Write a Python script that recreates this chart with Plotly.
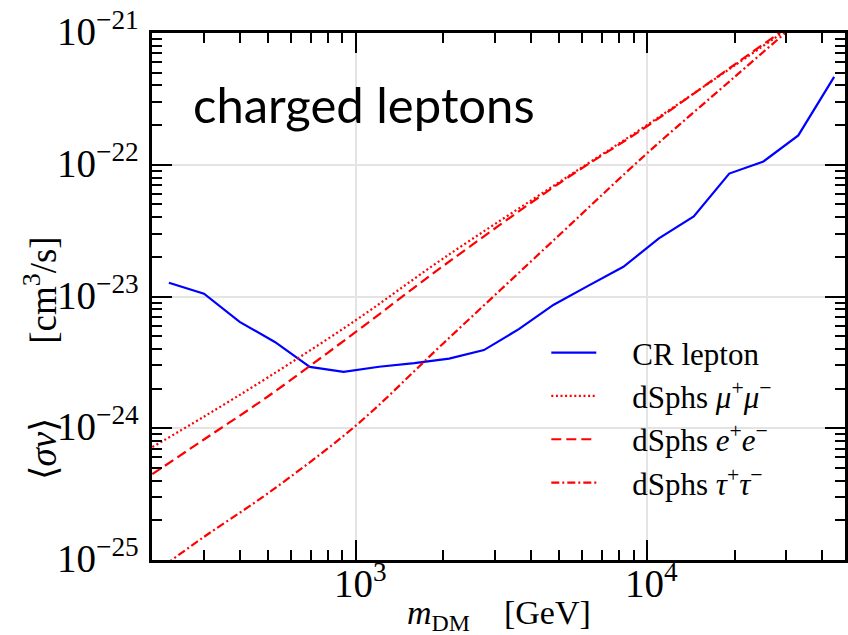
import numpy as np
import plotly.graph_objects as go

# ---------------- data ----------------
cr_mass = [228, 301, 399, 527, 695, 908, 1202, 1588, 2091, 2754, 3630, 4784,
           6300, 8300, 10990, 14480, 19170, 25130, 33100, 43950]
cr_sigv = [1.27e-23, 1.05e-23, 6.42e-24, 4.52e-24, 2.92e-24, 2.68e-24, 2.93e-24,
           3.12e-24, 3.38e-24, 3.92e-24, 5.65e-24, 8.67e-24, 1.21e-23, 1.68e-23,
           2.76e-23, 4.06e-23, 8.57e-23, 1.06e-22, 1.67e-22, 4.64e-22]

dsph_mass = [200, 300, 500, 1000, 2000, 5000, 10000, 20000, 30000]
dsph_mumu = [7.19e-25, 1.22e-24, 2.44e-24, 6.61e-24, 1.95e-23, 7.39e-23, 2.0e-22, 5.67e-22, 1.045e-21]
dsph_ee = [4.48e-25, 8.18e-25, 1.75e-24, 5.39e-24, 1.71e-23, 7.24e-23, 1.96e-22, 5.76e-22, 1.085e-21]
dsph_tautau = [7.8e-26, 1.49e-25, 3.22e-25, 1.047e-24, 4.42e-24, 2.93e-23, 1.22e-22, 4.64e-22, 1.01e-21]

x_tick_exp = [3, 4]
y_tick_exp = [-25, -24, -23, -22, -21]

pad = "&nbsp;&nbsp;&nbsp;&nbsp;"
labels = [pad + "CR lepton",
          pad + "dSphs <i>μ</i><sup>+</sup><i>μ</i><sup>−</sup>",
          pad + "dSphs <i>e</i><sup>+</sup><i>e</i><sup>−</sup>",
          pad + "dSphs <i>τ</i><sup>+</sup><i>τ</i><sup>−</sup>"]

# ---------------- figure ----------------
W, H = 848, 635
ML, MR, MT, MB = 152, 0, 33, 75
pw, ph = W - ML - MR, H - MT - MB

fig = go.Figure()
fig.add_trace(go.Scatter(x=cr_mass, y=cr_sigv, mode="lines", name=labels[0], legendgroup="a",
                         line=dict(color="#0000ff", width=2.2)))
fig.add_trace(go.Scatter(x=dsph_mass, y=dsph_mumu, mode="lines", name=labels[1], legendgroup="b",
                         line=dict(color="#ff0000", width=2.2, dash="2px,2.6px"), line_shape="spline"))
fig.add_trace(go.Scatter(x=dsph_mass, y=dsph_ee, mode="lines", name=labels[2], legendgroup="c",
                         line=dict(color="#ff0000", width=2.2, dash="10px,5px"), line_shape="spline"))
fig.add_trace(go.Scatter(x=dsph_mass, y=dsph_tautau, mode="lines", name=labels[3], legendgroup="d",
                         line=dict(color="#ff0000", width=2.2, dash="8px,3px,2px,3px"), line_shape="spline"))

serif = "Liberation Serif"
axis_common = dict(
    type="log", showline=True, linecolor="black", linewidth=2.5, mirror="ticks",
    ticks="inside", ticklen=20, tickwidth=2, tickcolor="black",
    showgrid=True, gridcolor="#e4e4e4", gridwidth=2, zeroline=False,
    dtick=1, showticklabels=False,
    minor=dict(ticks="inside", ticklen=10, tickwidth=1.5, tickcolor="black",
               dtick="D1", showgrid=False),
)

fig.update_xaxes(range=[np.log10(199.5), np.log10(199.5) + pw / 292.4], **axis_common)
fig.update_yaxes(range=[-25, -21], **axis_common)

tick_font = dict(family=serif, size=39, color="black")
for e in y_tick_exp:
    fig.add_annotation(text="10<sup>−%d</sup>" % abs(e), xref="paper", yref="y",
                       x=(141 - ML) / pw, y=e, xanchor="right", yanchor="middle", yshift=4,
                       showarrow=False, font=tick_font)
for e in x_tick_exp:
    fig.add_annotation(text="10<sup>%d</sup>" % e, xref="x", yref="paper",
                       x=e, y=0, xanchor="center", yanchor="top", xshift=5, yshift=5,
                       showarrow=False, font=tick_font)

fig.add_annotation(text="charged leptons", xref="paper", yref="paper",
                   x=(191 - ML) / pw, y=(H - MB - 104) / ph, xanchor="left", yanchor="middle",
                   showarrow=False, font=dict(family="Lato", size=49, color="black"))
fig.add_annotation(text="⟨<i>σv</i>⟩" + "&nbsp;" * 8 + "[cm<sup>3</sup>/s]", xref="paper", yref="paper",
                   x=(40 - ML) / pw, y=(H - MB - 358) / ph, xanchor="center", yanchor="middle",
                   textangle=-90, showarrow=False, font=dict(family=serif, size=37, color="black"))
fig.add_annotation(text="<i>m</i><sub>DM</sub>" + "&nbsp;" * 4 + "[GeV]", xref="paper", yref="paper",
                   x=(501 - ML) / pw, y=(H - MB - 615) / ph, xanchor="center", yanchor="middle",
                   showarrow=False, font=dict(family=serif, size=34, color="black"))

fig.update_layout(
    width=W, height=H,
    margin=dict(l=ML, r=MR, t=MT, b=MB, pad=0),
    paper_bgcolor="white", plot_bgcolor="white",
    showlegend=True,
    legend=dict(x=(548 - ML) / pw, y=(H - MB - 326) / ph, xanchor="left", yanchor="top",
                bgcolor="rgba(0,0,0,0)", borderwidth=0, tracegroupgap=0,
                font=dict(family=serif, size=31, color="black"), itemwidth=45),
)

fig.write_html("out.html")
